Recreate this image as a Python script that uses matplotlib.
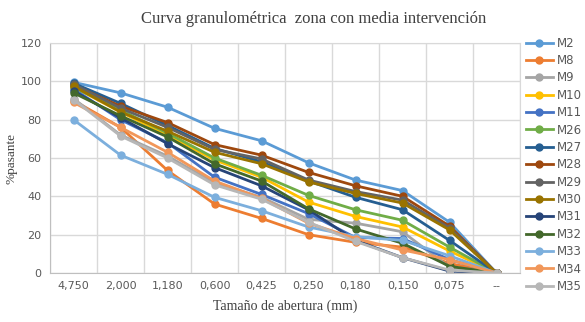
import matplotlib
matplotlib.use("Agg")
import matplotlib.pyplot as plt

# tamaños de tamiz (mm)
tamices = ["4,750", "2,000", "1,180", "0,600", "0,425", "0,250", "0,180", "0,150", "0,075", "--"]

M2 = [99.5, 94, 86.5, 75.5, 69, 57.5, 48.5, 43, 26.5, 0]
M8 = [90, 76, 53.5, 36, 28.5, 20, 16, 13.5, 5, 0]
M9 = [91, 72, 61, 47, 39.5, 28, 26, 21.5, 3, 0]
M10 = [97, 84, 72, 59, 50, 37, 29.5, 24, 11.5, 0]
M11 = [96, 80, 68, 50, 41, 31, 18.5, 18, 7, 0]
M26 = [97, 85, 73, 60, 51, 40.5, 33, 27.5, 13.5, 0]
M27 = [99, 88.5, 77, 65, 58, 48, 39.5, 33, 17, 0]
M28 = [98, 87, 78.5, 67, 61.5, 52.5, 45.5, 40, 24.5, 0]
M29 = [98.5, 86, 76, 64.5, 59.5, 48.5, 42.5, 38, 23.5, 0]
M30 = [97.5, 84, 74, 63, 57, 47.5, 41.5, 36.5, 22.5, 0]
M31 = [95, 81, 67.5, 55, 45.5, 33, 17, 8, 1, 0]
M32 = [94, 82, 71, 57, 48, 33.5, 23, 15.5, 3.5, 0]
M33 = [80, 61.5, 51.5, 39.5, 32.5, 24, 19, 17, 9, 0]
M34 = [89, 76, 63, 48, 39, 26, 18, 12, 7, 0]
M35 = [90.5, 71.5, 60, 46, 38.5, 26.5, 16.5, 8, 1.5, 0]

nombres = ["M2", "M8", "M9", "M10", "M11", "M26", "M27", "M28", "M29", "M30",
           "M31", "M32", "M33", "M34", "M35"]
series = [M2, M8, M9, M10, M11, M26, M27, M28, M29, M30, M31, M32, M33, M34, M35]
colores = ["#5B9BD5", "#ED7D31", "#A5A5A5", "#FFC000", "#4472C4", "#70AD47",
           "#255E91", "#9E480E", "#636363", "#997300", "#264478", "#43682B",
           "#7CAFDD", "#F1975A", "#B7B7B7"]

fig = plt.figure(figsize=(5.85, 3.22), dpi=100)
ax = fig.add_axes([50/585, 49/322, 470/585, 230/322])

x = list(range(len(tamices)))
for nom, s, c in zip(nombres, series, colores):
    ax.plot(x, s, color=c, lw=2, marker="o", ms=5, label=nom)

grid_c = "#D9D9D9"
ax.set_xlim(-0.5, len(tamices) - 0.5)
ax.set_ylim(0, 120)
ax.set_yticks(range(0, 121, 20))
ax.set_xticks(x)
ax.set_xticklabels(tamices)
ax.set_xticks([i + 0.5 for i in range(-1, len(tamices))], minor=True)
ax.grid(True, axis="y", color=grid_c, lw=1)
ax.grid(True, axis="x", which="minor", color=grid_c, lw=1)
ax.set_axisbelow(True)
ax.tick_params(which="both", length=0, labelsize=8, colors="#595959", pad=6)
for side in ["top", "right"]:
    ax.spines[side].set_color(grid_c)
for side in ["left", "bottom"]:
    ax.spines[side].set_color("#BFBFBF")

fig.text(314/585, 1 - 19/322, "Curva granulométrica  zona con media intervención",
         ha="center", va="center", fontsize=12, family="Liberation Serif", color="#404040")
fig.text(12/585, 1 - 159/322, "%pasante", rotation=90, ha="center", va="center",
         fontsize=9.5, family="Liberation Serif", color="#404040")
ax.set_xlabel("Tamaño de abertura (mm)", fontsize=10, family="Liberation Serif", color="#404040", labelpad=6)

fig.legend(loc="upper left", bbox_to_anchor=(521/585, 1 - 32/322), frameon=False,
           fontsize=8.5, labelspacing=0.37, handlelength=2.3, handletextpad=0.3,
           borderaxespad=0, labelcolor="#595959")

fig.savefig("out.png", dpi=100)
